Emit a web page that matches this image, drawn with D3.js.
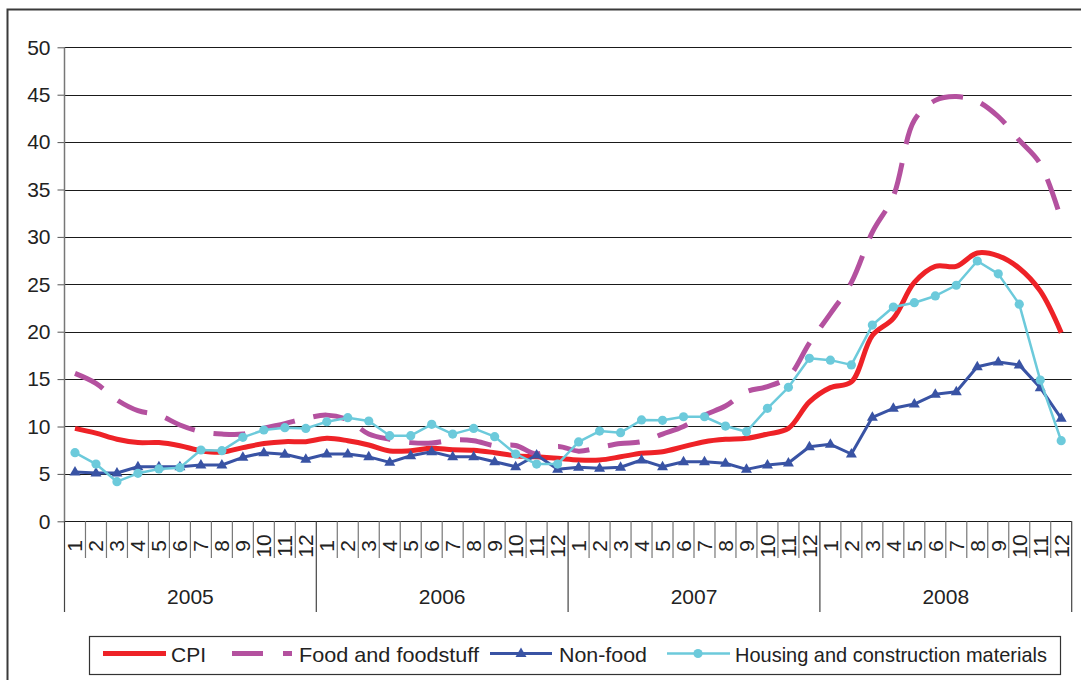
<!DOCTYPE html>
<html>
<head>
<meta charset="utf-8">
<script src="https://cdn.jsdelivr.net/npm/d3@7"></script>
<style>
  html, body { margin: 0; padding: 0; background: #fff; }
  svg { display: block; font-family: "Liberation Sans", Arial, sans-serif; }
</style>
</head>
<body>
<svg id="chart" width="1081" height="680"></svg>
<script>
// Month and year labels of the category axis
const years = ["2005", "2006", "2007", "2008"];
const months = ["1", "2", "3", "4", "5", "6", "7", "8", "9", "10", "11", "12"];
const yTicks = [0, 5, 10, 15, 20, 25, 30, 35, 40, 45, 50];

// Year-on-year change, %, Jan 2005 – Dec 2008
const cpi = [
  9.8, 9.3, 8.65, 8.3, 8.3, 7.97, 7.45, 7.3, 7.77, 8.2, 8.4, 8.4,
  8.75, 8.5, 8.05, 7.42, 7.45, 7.7, 7.55, 7.5, 7.24, 6.92, 6.8, 6.64,
  6.47, 6.47, 6.8, 7.17, 7.34, 7.87, 8.4, 8.65, 8.75, 9.2, 9.8, 12.6,
  14.1, 14.7, 19.6, 21.4, 25.2, 26.9, 26.9, 28.3, 28.0, 26.7, 24.3, 19.9
];
const food = [
  15.6, 14.55, 12.8, 11.67, 11.2, 10.16, 9.45, 9.2, 9.2, 9.8, 10.3, 10.86,
  11.2, 10.7, 9.2, 8.65, 8.3, 8.25, 8.57, 8.5, 7.97, 8.0, 7.1, 7.9,
  7.4, 7.8, 8.2, 8.4, 9.2, 10.0, 11.2, 12.16, 13.67, 14.2, 15.25, 18.8,
  21.9, 25.2, 30.5, 34.3, 42.3, 44.4, 44.8, 44.3, 42.7, 40.2, 37.7, 31.8
];
const nonFood = [
  5.2, 5.1, 5.1, 5.76, 5.76, 5.76, 5.94, 5.94, 6.75, 7.24, 7.07, 6.54,
  7.1, 7.1, 6.8, 6.22, 6.92, 7.34, 6.8, 6.8, 6.29, 5.76, 7.0, 5.48,
  5.7, 5.6, 5.7, 6.47, 5.76, 6.29, 6.29, 6.12, 5.48, 5.94, 6.15, 7.87,
  8.12, 7.1, 10.97, 11.92, 12.37, 13.4, 13.67, 16.3, 16.8, 16.5, 14.1, 10.86
];
const housing = [
  7.24, 6.04, 4.18, 5.06, 5.52, 5.66, 7.52, 7.45, 8.86, 9.63, 9.88, 9.8,
  10.5, 10.93, 10.58, 9.03, 9.03, 10.23, 9.2, 9.8, 8.93, 7.1, 6.04, 6.04,
  8.37, 9.52, 9.35, 10.69, 10.65, 11.03, 11.03, 10.05, 9.45, 11.92, 14.13, 17.19,
  17.0, 16.5, 20.7, 22.6, 23.06, 23.77, 24.9, 27.46, 26.1, 22.9, 14.9, 8.5
];
const seriesNames = ["CPI", "Food and foodstuff", "Non-food", "Housing and construction materials"];

const categories = [];
years.forEach(yr => months.forEach(m => categories.push(yr + "-" + m)));

const svg = d3.select("#chart");
const plotLeft = 64.5, plotRight = 1071.7, plotTop = 47.3, plotBottom = 521.3;

const x = d3.scaleBand().domain(categories).range([plotLeft, plotRight]).padding(0);
const y = d3.scaleLinear().domain([0, 50]).range([plotBottom, plotTop]);
const cx = i => x(categories[i]) + x.bandwidth() / 2;

// Outer frame
svg.append("rect")
  .attr("x", 7.5).attr("y", 9.5).attr("width", 1200).attr("height", 800)
  .attr("fill", "none").attr("stroke", "#3a3a3a").attr("stroke-width", 2);

// Value axis ticks and labels
const yAxis = svg.append("g").attr("transform", `translate(${plotLeft},0)`)
  .call(d3.axisLeft(y).tickValues(yTicks).tickSize(7).tickPadding(7));
yAxis.select(".domain").remove();
yAxis.selectAll(".tick line").attr("stroke", "#555");
yAxis.selectAll(".tick text")
  .attr("font-size", 21).attr("fill", "#222")
  .attr("font-family", "'Liberation Sans', Arial, sans-serif");

// Horizontal gridlines
svg.append("g").selectAll("line").data(yTicks).join("line")
  .attr("x1", plotLeft).attr("x2", plotRight)
  .attr("y1", d => Math.round(y(d)) + 0.5).attr("y2", d => Math.round(y(d)) + 0.5)
  .attr("stroke", "#1a1a1a").attr("stroke-width", 1.2);

svg.append("line")
  .attr("x1", plotLeft).attr("x2", plotLeft).attr("y1", plotTop).attr("y2", plotBottom)
  .attr("stroke", "#777").attr("stroke-width", 1.5);

// Category axis: month dividers, year dividers, labels
const bounds = d3.range(categories.length + 1).map(i => plotLeft + i * x.step());
svg.append("g").selectAll("line").data(bounds).join("line")
  .attr("x1", d => d).attr("x2", d => d)
  .attr("y1", plotBottom)
  .attr("y2", (d, i) => (i % 12 === 0 ? 612 : 558))
  .attr("stroke", (d, i) => (i % 12 === 0 ? "#444" : "#777"))
  .attr("stroke-width", 1.2);

svg.append("g").selectAll("text").data(categories).join("text")
  .attr("transform", (d, i) => `translate(${cx(i)},546) rotate(-90)`)
  .attr("text-anchor", "middle")
  .attr("dy", "0.35em")
  .attr("font-size", 21).attr("fill", "#222")
  .text(d => d.split("-")[1]);

svg.append("g").selectAll("text").data(years).join("text")
  .attr("x", (d, i) => (bounds[i * 12] + bounds[i * 12 + 12]) / 2)
  .attr("y", 597)
  .attr("dy", "0.35em")
  .attr("text-anchor", "middle")
  .attr("font-size", 21).attr("fill", "#222")
  .text(d => d);

// Series
const smooth = d3.line().x((d, i) => cx(i)).y(d => y(d)).curve(d3.curveCatmullRom.alpha(0.5));
const straight = d3.line().x((d, i) => cx(i)).y(d => y(d));

const colors = { cpi: "#ee2227", food: "#b4519f", nonFood: "#3953a4", housing: "#6ccadb" };
const triangle = "M0,-6L5.5,3.5L-5.5,3.5Z";

svg.append("path").attr("d", smooth(cpi))
  .attr("fill", "none").attr("stroke", colors.cpi).attr("stroke-width", 5)
  .attr("stroke-linejoin", "round");

svg.append("path").attr("d", smooth(food))
  .attr("fill", "none").attr("stroke", colors.food).attr("stroke-width", 5)
  .attr("stroke-dasharray", "32,19");

svg.append("path").attr("d", straight(nonFood))
  .attr("fill", "none").attr("stroke", colors.nonFood).attr("stroke-width", 3)
  .attr("stroke-linejoin", "round");
svg.append("g").selectAll("path").data(nonFood).join("path")
  .attr("transform", (d, i) => `translate(${cx(i)},${y(d)})`)
  .attr("d", triangle).attr("fill", colors.nonFood);

svg.append("path").attr("d", straight(housing))
  .attr("fill", "none").attr("stroke", colors.housing).attr("stroke-width", 2.5)
  .attr("stroke-linejoin", "round");
svg.append("g").selectAll("circle").data(housing).join("circle")
  .attr("cx", (d, i) => cx(i)).attr("cy", d => y(d)).attr("r", 4.6)
  .attr("fill", colors.housing);

// Legend
const lg = svg.append("g");
lg.append("rect").attr("x", 89.5).attr("y", 636.5).attr("width", 971).attr("height", 38)
  .attr("fill", "#fff").attr("stroke", "#333").attr("stroke-width", 1.2);
const ly = 653.5;
lg.append("line").attr("x1", 103).attr("x2", 166).attr("y1", ly).attr("y2", ly)
  .attr("stroke", colors.cpi).attr("stroke-width", 5);
lg.append("line").attr("x1", 232).attr("x2", 292).attr("y1", ly).attr("y2", ly)
  .attr("stroke", colors.food).attr("stroke-width", 5).attr("stroke-dasharray", "31,20");
lg.append("line").attr("x1", 490).attr("x2", 552).attr("y1", ly).attr("y2", ly)
  .attr("stroke", colors.nonFood).attr("stroke-width", 3);
lg.append("path").attr("transform", `translate(521,${ly})`).attr("d", triangle).attr("fill", colors.nonFood);
lg.append("line").attr("x1", 667).attr("x2", 730).attr("y1", ly).attr("y2", ly)
  .attr("stroke", colors.housing).attr("stroke-width", 2.5);
lg.append("circle").attr("cx", 698).attr("cy", ly).attr("r", 4.6).attr("fill", colors.housing);

const textX = [171, 299, 559, 735];
const textW = [null, 180, 88, 312];
lg.selectAll("text.lbl").data(seriesNames).join("text")
  .attr("class", "lbl")
  .attr("x", (d, i) => textX[i]).attr("y", ly + 1)
  .attr("dy", "0.35em")
  .attr("font-size", 21).attr("fill", "#222")
  .each(function (d, i) {
    if (textW[i]) d3.select(this).attr("textLength", textW[i]).attr("lengthAdjust", "spacingAndGlyphs");
  })
  .text(d => d);
</script>
</body>
</html>
